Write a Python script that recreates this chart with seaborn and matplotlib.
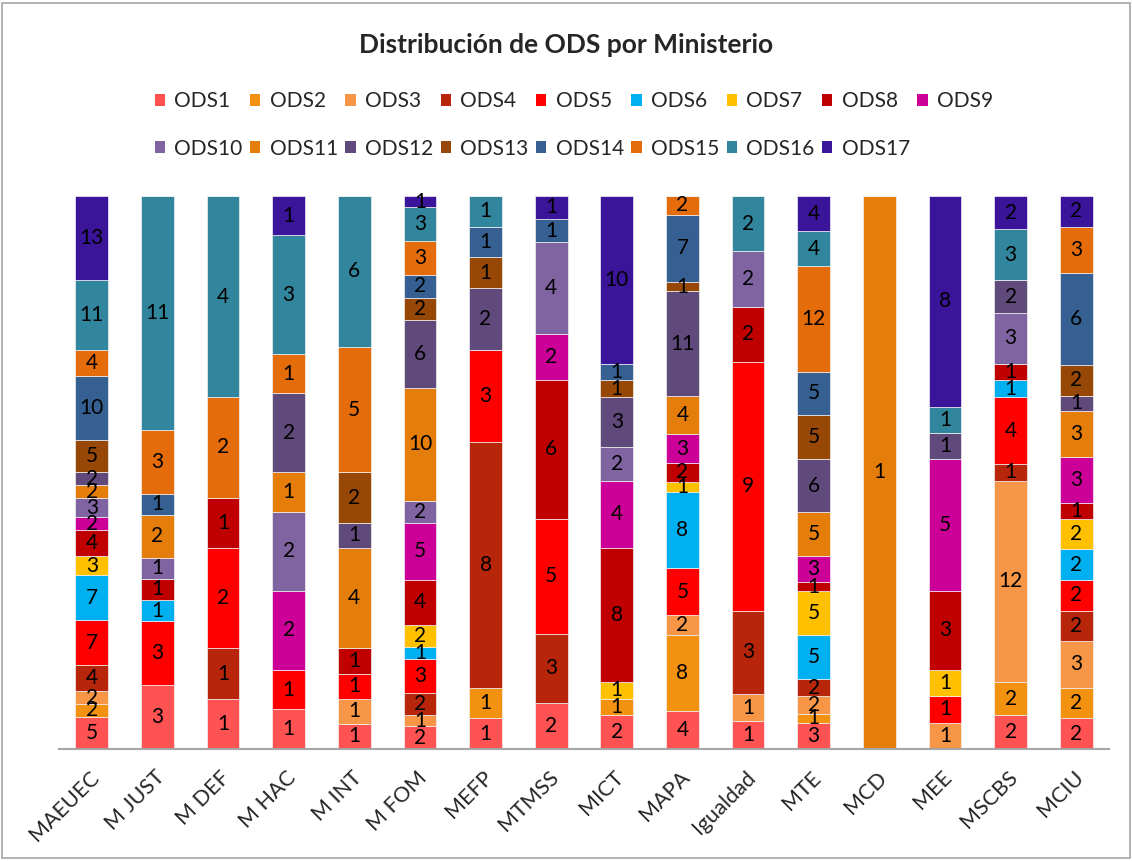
import matplotlib
matplotlib.use("Agg")
import matplotlib.pyplot as plt
from matplotlib.patches import Patch, Rectangle
import matplotlib.transforms as mtransforms
import seaborn as sns
import numpy as np

ministries = ["MAEUEC", "M JUST", "M DEF", "M HAC", "M INT", "M FOM", "MEFP", "MTMSS",
              "MICT", "MAPA", "Igualdad", "MTE", "MCD", "MEE", "MSCBS", "MCIU"]

ods_names = [f"ODS{i}" for i in range(1, 18)]

ods1 = [5, 3, 1, 1, 1, 2, 1, 2, 2, 4, 1, 3, 0, 0, 2, 2]
ods2 = [2, 0, 0, 0, 0, 0, 1, 0, 1, 8, 0, 1, 0, 0, 2, 2]
ods3 = [2, 0, 0, 0, 1, 1, 0, 0, 0, 2, 1, 2, 0, 1, 12, 3]
ods4 = [4, 0, 1, 0, 0, 2, 8, 3, 0, 0, 3, 2, 0, 0, 1, 2]
ods5 = [7, 3, 2, 1, 1, 3, 3, 5, 0, 5, 9, 0, 0, 1, 4, 2]
ods6 = [7, 1, 0, 0, 0, 1, 0, 0, 0, 8, 0, 5, 0, 0, 1, 2]
ods7 = [3, 0, 0, 0, 0, 2, 0, 0, 1, 1, 0, 5, 0, 1, 0, 2]
ods8 = [4, 1, 1, 0, 1, 4, 0, 6, 8, 2, 2, 1, 0, 3, 1, 1]
ods9 = [2, 0, 0, 2, 0, 5, 0, 2, 4, 3, 0, 3, 0, 5, 0, 3]
ods10 = [3, 1, 0, 2, 0, 2, 0, 4, 2, 0, 2, 0, 0, 0, 3, 0]
ods11 = [2, 2, 0, 1, 4, 10, 0, 0, 0, 4, 0, 5, 1, 0, 0, 3]
ods12 = [2, 0, 0, 2, 1, 6, 2, 0, 3, 11, 0, 6, 0, 1, 2, 1]
ods13 = [5, 0, 0, 0, 2, 2, 1, 0, 1, 1, 0, 5, 0, 0, 0, 2]
ods14 = [10, 1, 0, 0, 0, 2, 1, 1, 1, 7, 0, 5, 0, 0, 0, 6]
ods15 = [4, 3, 2, 1, 5, 3, 0, 0, 0, 2, 0, 12, 0, 0, 0, 3]
ods16 = [11, 11, 4, 3, 6, 3, 1, 0, 0, 0, 2, 4, 0, 1, 3, 0]
ods17 = [13, 0, 0, 1, 0, 1, 0, 1, 10, 0, 0, 4, 0, 8, 2, 2]

series = [ods1, ods2, ods3, ods4, ods5, ods6, ods7, ods8, ods9,
          ods10, ods11, ods12, ods13, ods14, ods15, ods16, ods17]

ods_colors = ["#FF5353", "#F39110", "#F79646", "#B7250A", "#FF0000", "#00B0F0",
              "#FFC000", "#C00000", "#CC0099", "#8064A2", "#E47D0A", "#604A7B",
              "#974806", "#366092", "#E46C0A", "#31859C", "#3A1599"]

sns.set_theme(style="white")
plt.rcParams["font.family"] = ["Lato", "DejaVu Sans"]

fig = plt.figure(figsize=(11.32, 8.61), dpi=100)
ax = fig.add_axes([0.0521, 0.1301, 0.9276, 0.6423])

counts = np.array(series, dtype=float)
totals = counts.sum(axis=0)
bottom = np.zeros(len(ministries))
for name, vals, col in zip(ods_names, series, ods_colors):
    share = np.array(vals) / totals * 100
    sns.barplot(x=ministries, y=share, bottom=bottom, color=col, width=0.5,
                saturation=1, edgecolor="#F2F2F2", linewidth=0.5, ax=ax)
    cont = ax.containers[-1]
    ax.bar_label(cont, labels=[str(v) if v > 0 else "" for v in vals],
                 label_type="center", fontsize=15, color="black")
    bottom = bottom + share

ax.set_xlim(-0.5, len(ministries) - 0.5)
ax.set_ylim(0, 100)
ax.set_xlabel("")
ax.set_ylabel("")
ax.set_yticks([])
for s in ["left", "right", "top"]:
    ax.spines[s].set_visible(False)
ax.spines["bottom"].set_color("#A6A6A6")
ax.spines["bottom"].set_linewidth(1.5)
ax.tick_params(axis="x", length=0, pad=6)
shift = mtransforms.ScaledTranslation(-3 / 100, -10 / 100, fig.dpi_scale_trans)
for lab in ax.get_xticklabels():
    lab.set_rotation(45)
    lab.set_ha("right")
    lab.set_rotation_mode("anchor")
    lab.set_fontsize(15.5)
    lab.set_transform(lab.get_transform() + shift)

fig.text(0.5, 1 - 45 / 861, "Distribución de ODS por Ministerio", ha="center",
         va="center", fontsize=19, fontweight="bold")

# legend: interleave so that rows read ODS1..ODS9 / ODS10..ODS17
handles = [Patch(facecolor=c, edgecolor="none") for c in ods_colors]
order = []
for i in range(9):
    order.append(i)
    if i + 9 < 17:
        order.append(i + 9)
fig.legend([handles[i] for i in order], [ods_names[i] for i in order], ncol=9,
           loc="center", bbox_to_anchor=(0.507, 1 - 125 / 861), frameon=False,
           fontsize=15, handlelength=0.5, handleheight=0.5, handletextpad=0.45,
           columnspacing=0.35, labelspacing=1.3)

fig.add_artist(Rectangle((0.002, 0.003), 0.996, 0.994, transform=fig.transFigure,
                         fill=False, edgecolor="#A6A6A6", linewidth=1.2))

fig.savefig("out.png", dpi=100)
plt.close(fig)
